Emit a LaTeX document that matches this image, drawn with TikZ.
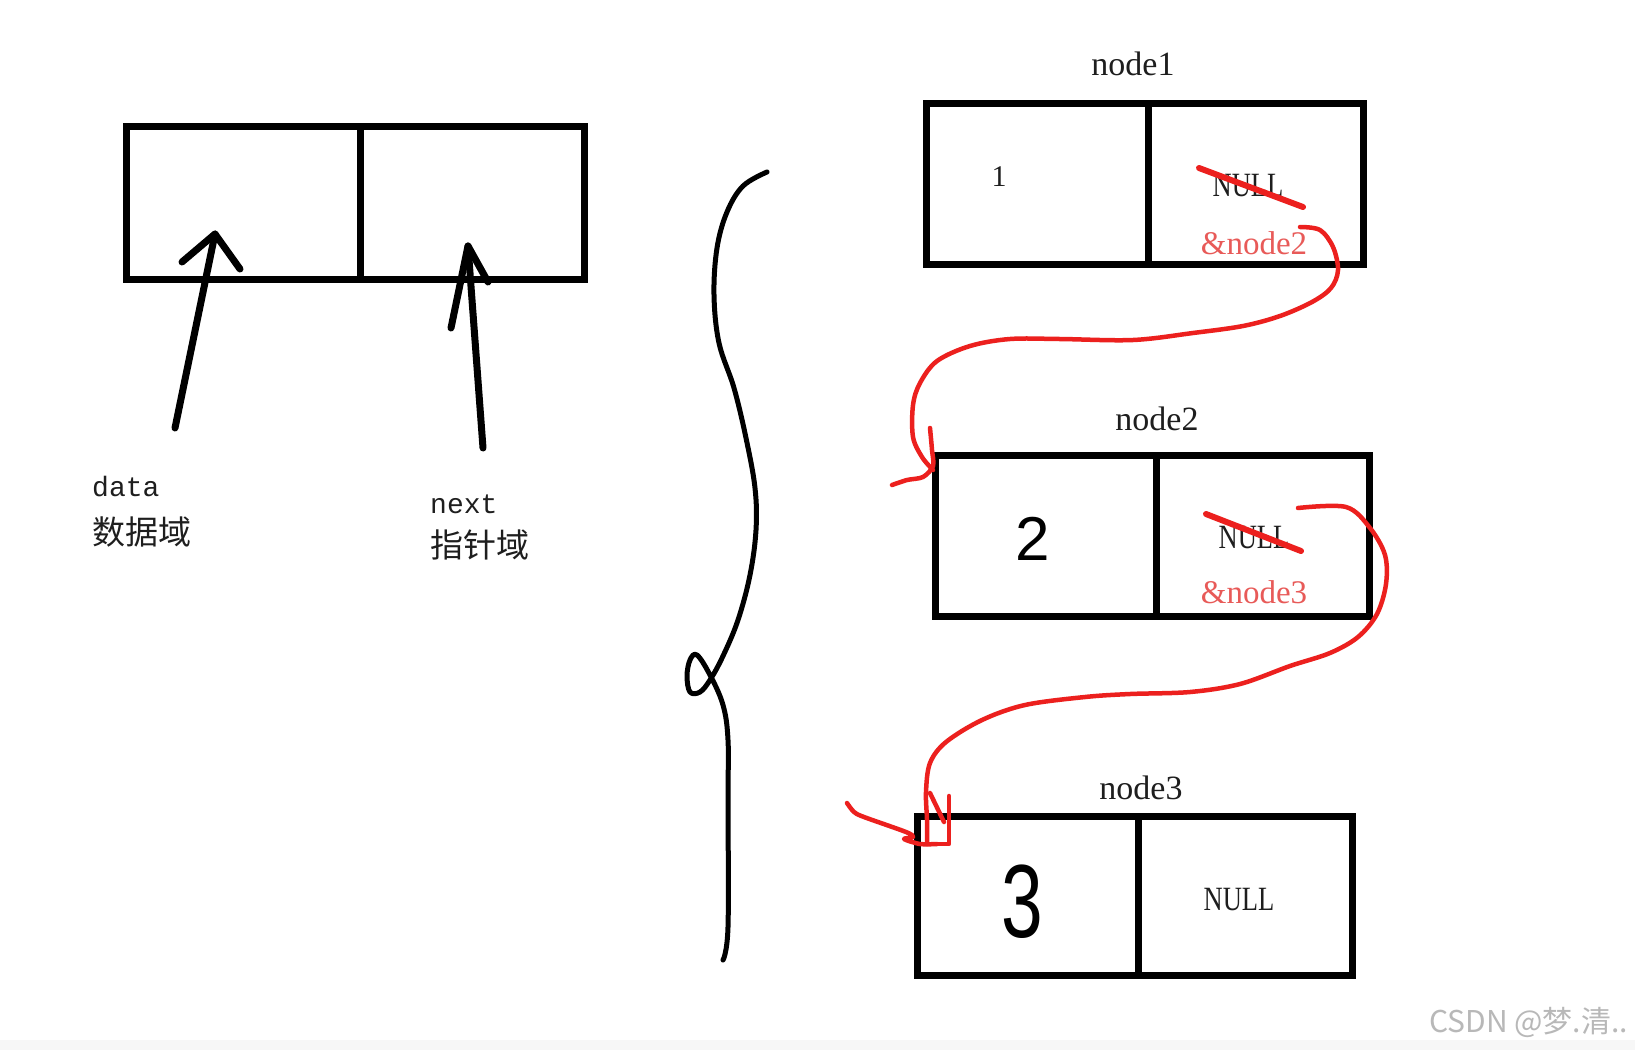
\documentclass[tikz,border=0pt]{standalone}
\usepackage{fontspec}
\usepackage{graphicx}
\setmainfont{Liberation Serif}
\newfontfamily\cjk{Noto Sans CJK SC}
\newfontfamily\monof{Liberation Mono}
\newfontfamily\condserif[FakeStretch=0.78]{Liberation Serif}
\newfontfamily\handf{Liberation Sans}
\definecolor{redpen}{RGB}{236,32,30}
\definecolor{redtext}{RGB}{232,90,88}
\definecolor{inktext}{RGB}{30,30,30}
\begin{document}
\begin{tikzpicture}[x=1pt,y=-1pt,
  cell/.style={draw=black,line width=7pt,inner sep=0pt,outer sep=0pt,anchor=north west},
  lbl/.style={inner sep=0pt,text=inktext},
  pen/.style={draw=black,line width=7pt,line cap=round,line join=round},
  bracepen/.style={draw=black,line width=5pt,line cap=round,line join=round},
  redline/.style={draw=redpen,line width=4.5pt,line cap=round,line join=round},
  strike/.style={draw=redpen,line width=6pt,line cap=round}]
\fill[white] (0,0) rectangle (1635,1050);
\useasboundingbox (0,0) rectangle (1635,1050);
\fill[black!3] (0,1040) rectangle (1635,1050);

% ---- generic record (left) ----
\node[cell,minimum width=234pt,minimum height=153pt] (gd) at (126,126) {};
\node[cell,minimum width=224pt,minimum height=153pt] (gp) at (360,126) {};

\node[lbl,anchor=west,font=\monof\fontsize{28}{30}\selectfont] (tdata) at (92,487) {data};
\node[lbl,anchor=west,font=\cjk\fontsize{33}{35}\selectfont] (tdatacn) at (92,532) {数据域};
\node[lbl,anchor=west,font=\monof\fontsize{28}{30}\selectfont] (tnext) at (430,504) {next};
\node[lbl,anchor=west,font=\cjk\fontsize{33}{35}\selectfont] (tnextcn) at (430,545) {指针域};

\coordinate (a1s) at (175,428);
\coordinate (a1t) at (215,234);
\coordinate (a2s) at (483,448);
\coordinate (a2t) at (468,246);
\draw[pen] (a1s) -- (a1t);
\draw[pen] (182,262) -- (a1t) -- (240,269);
\draw[pen] (a2s) -- (a2t);
\draw[pen] (451,328) -- (a2t) -- (488,282);

% ---- brace ----
\draw[bracepen] plot[smooth,tension=0.6] coordinates {
 (767,172) (743,186) (727,212) (717,248) (714,295) (719,343) (734,388)
 (746,438) (755,488) (756,530) (750,575) (738,620) (723,656) (710,680)
 (700,692) (690,692) (687,676) (690,660) (697,655)
 (710,675) (723,705) (728,740) (728,800) (728,927) (723,960)};

% ---- node1 ----
\node[lbl,font=\fontsize{34}{36}\selectfont] (n1t) at (1133,64) {node1};
\node[cell,minimum width=221.5pt,minimum height=161pt] (n1d) at (926.5,103.5) {};
\node[cell,minimum width=215.5pt,minimum height=161pt] (n1p) at (1148,103.5) {};
\node[lbl,font=\fontsize{30}{32}\selectfont] (n1v) at (999,177) {1};
\node[lbl,font=\condserif\fontsize{34}{36}\selectfont] (n1null) at (1248,186) {NULL};
\draw[strike] (1199,168) -- (1303,207);
\node[lbl,text=redtext,font=\fontsize{33}{35}\selectfont] (n1next) at (1254,243) {\&node2};

% ---- node2 ----
\node[lbl,font=\fontsize{34}{36}\selectfont] (n2t) at (1157,419) {node2};
\node[cell,minimum width=220.5pt,minimum height=161pt] (n2d) at (935.5,455.5) {};
\node[cell,minimum width=213.5pt,minimum height=161pt] (n2p) at (1156,455.5) {};
\node[lbl,text=black,font=\handf\fontsize{62}{62}\selectfont] (n2v) at (1033,539) {2};
\node[lbl,font=\condserif\fontsize{34}{36}\selectfont] (n2null) at (1254,538) {NULL};
\draw[strike] (1206,514) -- (1301,551);
\node[lbl,text=redtext,font=\fontsize{33}{35}\selectfont] (n2next) at (1254,592) {\&node3};

% ---- node3 ----
\node[lbl,font=\fontsize{34}{36}\selectfont] (n3t) at (1141,788) {node3};
\node[cell,minimum width=220.5pt,minimum height=159pt] (n3d) at (917.5,816.5) {};
\node[cell,minimum width=214.5pt,minimum height=159pt] (n3p) at (1138,816.5) {};
\node[lbl,text=black,font=\handf\fontsize{104}{104}\selectfont] (n3v) at (1022,902) {\scalebox{0.72}[1]{3}};
\node[lbl,font=\condserif\fontsize{34}{36}\selectfont] (n3null) at (1239,900) {NULL};

% ---- red links ----
\coordinate (c1s) at (1300,227);
\coordinate (c1e) at (933,470);
\draw[redline] plot[smooth,tension=0.55] coordinates {
 (c1s) (1320,230) (1333,247) (1338,270) (1331,288) (1312,302) (1280,316)
 (1243,326) (1193,333) (1133,340) (1060,339) (1010,339) (970,346) (937,361)
 (920,383) (913,405) (913,437) (922,457) (c1e)};
\draw[redline] plot[smooth,tension=0.5] coordinates {
 (930,428) (932,450) (933,466) (923,477) (907,480) (892,485)};

\coordinate (c2s) at (1298,508);
\coordinate (c2e) at (927,844);
\draw[redline] plot[smooth,tension=0.55] coordinates {
 (c2s) (1346,507) (1370,528) (1385,555) (1386,584) (1377,614) (1358,637)
 (1330,653) (1290,666) (1240,684) (1190,692) (1130,694) (1085,697)
 (1025,705) (982,720) (946,742) (930,763) (926,792) (927,820) (c2e)};
\draw[redline] (c2e) -- (949,844) -- (949,796);
\draw[redline] (930,793) -- (944,822);
\draw[redline] plot[smooth,tension=0.5] coordinates {
 (847,803) (854,812) (864,817) (906,832) (913,837) (904,839) (920,844) (937,844)};

% ---- watermark ----
\node[inner sep=0pt,anchor=east,text=black!28,font=\cjk\fontsize{30}{32}\selectfont] (wm) at (1628,1022) {CSDN @梦.清..};
\end{tikzpicture}
\end{document}
